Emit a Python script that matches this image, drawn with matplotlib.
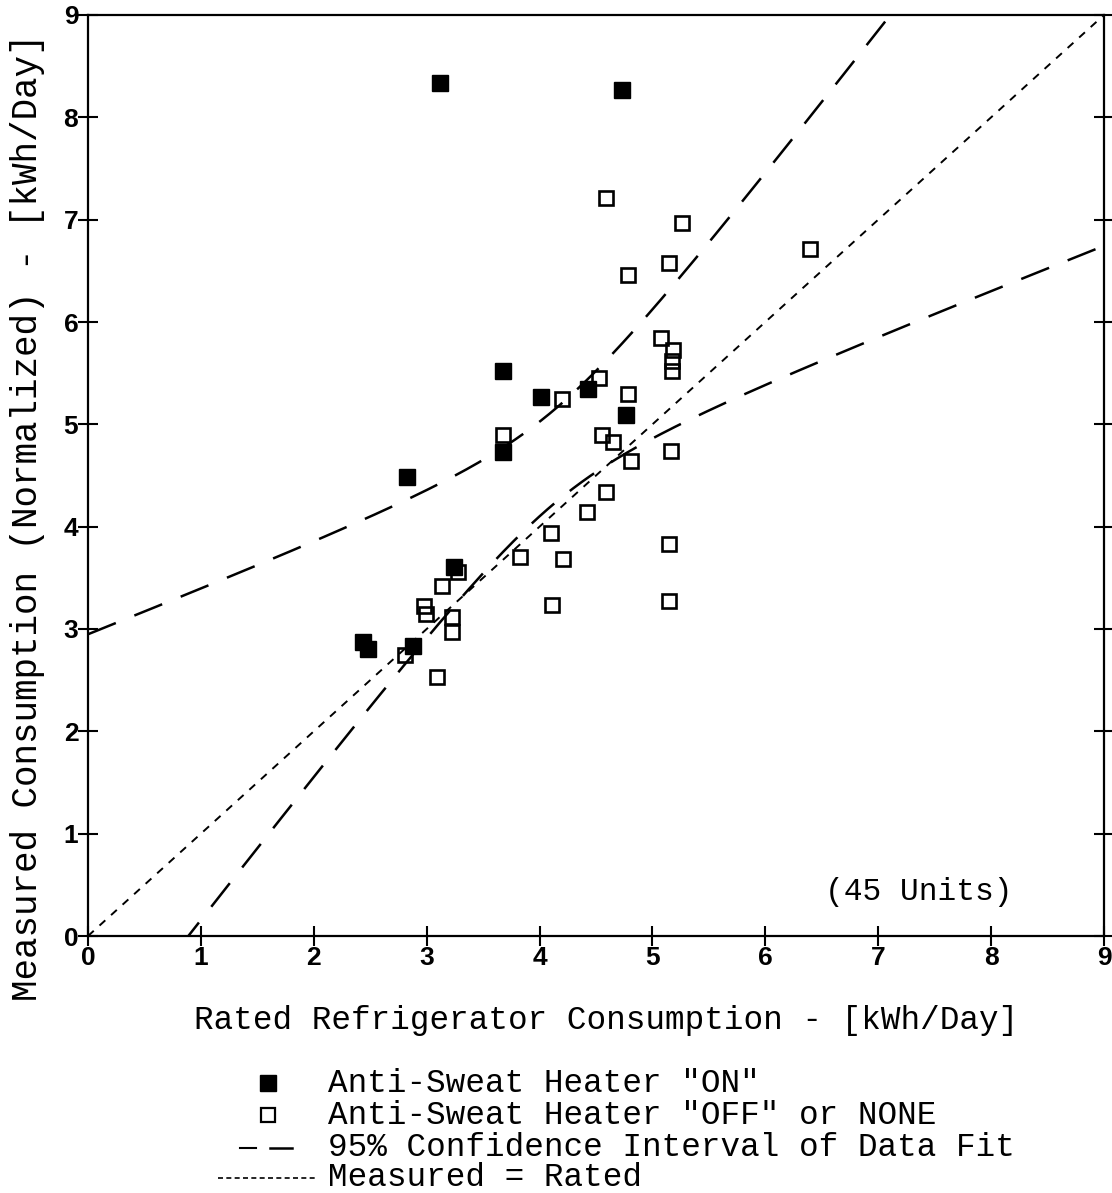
import numpy as np
import matplotlib
matplotlib.use("Agg")
import matplotlib.pyplot as plt
from matplotlib.lines import Line2D

# Refrigerators with the anti-sweat heater switched on
on_rated = [3.12, 4.73, 3.68, 4.01, 4.43, 4.77, 2.83, 3.68, 3.24, 2.44, 2.48, 2.88]
on_measured = [8.34, 8.27, 5.52, 5.27, 5.35, 5.09, 4.49, 4.73, 3.61, 2.87, 2.80, 2.83]

# Refrigerators with the heater off or without one
off_rated = [4.59, 5.26, 5.15, 4.78, 6.40, 5.08, 5.18, 5.17, 5.17, 4.53, 4.20,
             4.78, 3.68, 4.55, 4.65, 4.81, 5.16, 4.59, 4.42, 4.10, 3.83, 4.21,
             5.15, 3.28, 3.14, 2.98, 2.99, 3.22, 3.22, 4.11, 5.15, 2.81, 3.09]
off_measured = [7.21, 6.97, 6.58, 6.46, 6.71, 5.84, 5.73, 5.62, 5.52, 5.45, 5.25,
                5.30, 4.90, 4.90, 4.83, 4.64, 4.74, 4.34, 4.14, 3.94, 3.70, 3.68,
                3.83, 3.56, 3.42, 3.22, 3.15, 3.12, 2.97, 3.23, 3.27, 2.75, 2.53]

x_ticks = [0, 1, 2, 3, 4, 5, 6, 7, 8, 9]
y_ticks = [0, 1, 2, 3, 4, 5, 6, 7, 8, 9]

# F(0.95; 2, n-2) critical value for the simultaneous (Working-Hotelling) band, n = 45
F_CRIT = 3.214

MONO = ["Liberation Mono", "DejaVu Sans Mono"]
SANS = ["Liberation Sans", "DejaVu Sans"]

fig = plt.figure(figsize=(11.12, 11.93), dpi=100)
ax = fig.add_axes([88 / 1112, 1 - 936 / 1193, (1104 - 88) / 1112, (936 - 15) / 1193])

# Least-squares fit to all units and its 95% confidence band
x_all = np.array(on_rated + off_rated)
y_all = np.array(on_measured + off_measured)
n = len(x_all)
slope, intercept = np.polyfit(x_all, y_all, 1)
resid = y_all - (intercept + slope * x_all)
s = np.sqrt(np.sum(resid ** 2) / (n - 2))
x_mean = x_all.mean()
sxx = np.sum((x_all - x_mean) ** 2)
xs = np.linspace(0, 9, 600)
half = np.sqrt(2 * F_CRIT) * s * np.sqrt(1 / n + (xs - x_mean) ** 2 / sxx)
fit = intercept + slope * xs

band_style = dict(color="black", lw=1.8, dashes=(12, 8), solid_capstyle="butt")
ax.plot(xs, fit + half, **band_style)
ax.plot(xs, fit - half, **band_style)

# Measured = Rated reference line
ax.plot([0, 9], [0, 9], color="black", lw=1.4, dashes=(4, 4))

ax.plot(off_rated, off_measured, linestyle="none", marker="s", markersize=10.5,
        markerfacecolor="none", markeredgecolor="black", markeredgewidth=1.9)
ax.plot(on_rated, on_measured, linestyle="none", marker="s", markersize=11,
        markerfacecolor="black", markeredgecolor="black", markeredgewidth=1.0)

ax.set_xlim(0, 9)
ax.set_ylim(0, 9)
ax.set_xticks(x_ticks)
ax.set_yticks(y_ticks)
ax.set_xticklabels([str(v) for v in x_ticks], fontfamily=SANS, fontweight="bold", fontsize=19)
ax.set_yticklabels([str(v) for v in y_ticks], fontfamily=SANS, fontweight="bold", fontsize=19)
ax.tick_params(axis="both", direction="inout", length=14, width=1.5, pad=0)
ax.tick_params(axis="y", right=True)
for sp in ax.spines.values():
    sp.set_linewidth(1.6)

ax.text(7.36, 0.43, "(45 Units)", fontfamily=MONO, fontsize=22.5, ha="center", va="center")

fig.text(606 / 1112, 1 - 1021 / 1193, "Rated Refrigerator Consumption - [kWh/Day]",
         fontfamily=MONO, fontsize=23.5, ha="center", va="center")
fig.text(28 / 1112, 1 - 517 / 1193, "Measured Consumption (Normalized) - [kWh/Day]",
         fontfamily=MONO, fontsize=25.8, ha="center", va="center", rotation=90)

# Legend drawn beneath the axes
W, H = 1112, 1193
rows = [1083, 1115, 1148, 1178]
labels = ['Anti-Sweat Heater "ON"', 'Anti-Sweat Heater "OFF" or NONE',
          '95% Confidence Interval of Data Fit', 'Measured = Rated']
text_x = 328 / W
for yy, lab in zip(rows, labels):
    fig.text(text_x, 1 - yy / H, lab, fontfamily=MONO, fontsize=23.5, ha="left", va="center")

fig.add_artist(Line2D([268 / W], [1 - rows[0] / H], marker="s", markersize=11,
                      markerfacecolor="black", markeredgecolor="black", linestyle="none"))
fig.add_artist(Line2D([268 / W], [1 - rows[1] / H], marker="s", markersize=10,
                      markerfacecolor="none", markeredgecolor="black", markeredgewidth=1.6,
                      linestyle="none"))
fig.add_artist(Line2D([240 / W, 256 / W], [1 - rows[2] / H] * 2, color="black", lw=1.5))
fig.add_artist(Line2D([270 / W, 292 / W], [1 - rows[2] / H] * 2, color="black", lw=1.8))
fig.add_artist(Line2D([218 / W, 318 / W], [1 - rows[3] / H] * 2, color="black", lw=1.2,
                      dashes=(3, 2)))

fig.savefig("out.png", dpi=100, facecolor="white")
